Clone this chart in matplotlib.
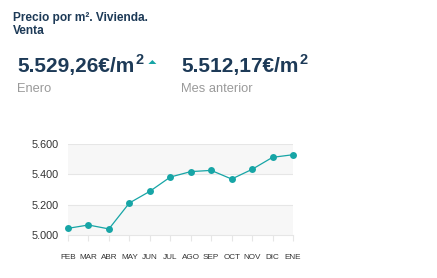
import matplotlib
matplotlib.use("Agg")
import matplotlib.pyplot as plt
from matplotlib.patches import Polygon

plt.rcParams["font.family"] = ["Liberation Sans", "DejaVu Sans"]

# precio medio por m2, vivienda en venta (ultimos 12 meses)
MONTHS = ["FEB", "MAR", "ABR", "MAY", "JUN", "JUL", "AGO", "SEP", "OCT", "NOV", "DIC", "ENE"]
PRICES = [5044, 5066, 5040, 5211, 5288, 5382, 5418, 5426, 5369, 5433, 5512.17, 5529.26]
Y_TICKS = [5000, 5200, 5400, 5600]
Y_LABELS = ["5.000", "5.200", "5.400", "5.600"]

TITLE = "Precio por m². Vivienda.\nVenta"
CURRENT = "5.529,26€/m"
CURRENT_LBL = "Enero"
PREVIOUS = "5.512,17€/m"
PREVIOUS_LBL = "Mes anterior"

NAVY = "#1d3a57"
GREY_TXT = "#9a9a9a"
TEAL = "#17a5a6"
BAND = "#f7f7f7"
GRID = "#e6e6e6"

W, H = 437, 278
fig = plt.figure(figsize=(W / 100, H / 100), dpi=100)


def fx(px):
    return px / W


def fy(py):
    return 1 - py / H


fig.text(fx(13), fy(12), TITLE, ha="left", va="top", fontsize=8.6,
         fontweight="bold", color=NAVY, linespacing=1.15)


def big_value(x, text, label):
    t = fig.text(fx(x), fy(72.5), text, ha="left", va="baseline", fontsize=15,
                 fontweight="bold", color=NAVY)
    fig.canvas.draw()
    bb = t.get_window_extent()
    sup = fig.text(bb.x1 / W + fx(1), fy(63.5), "2", ha="left", va="baseline",
                   fontsize=10.5, fontweight="bold", color=NAVY)
    fig.text(fx(x), fy(91.5), label, ha="left", va="baseline", fontsize=9.3,
             color=GREY_TXT)
    return sup


sup = big_value(17, CURRENT, CURRENT_LBL)
fig.canvas.draw()
sb = sup.get_window_extent()
tx = sb.x1 + 5
fig.add_artist(Polygon([(tx, H - 64), (tx + 8, H - 64), (tx + 4, H - 60)],
                       closed=True, transform=None, color=TEAL, lw=0))
big_value(181, PREVIOUS, PREVIOUS_LBL)

ax = fig.add_axes([fx(68), fy(235), fx(293) - fx(68), fy(144) - fy(235)])
x = list(range(len(MONTHS)))
ax.set_xlim(x[0], x[-1])
ax.set_ylim(Y_TICKS[0], Y_TICKS[-1])

for i in range(len(Y_TICKS) - 1):
    if i % 2 == 0:
        ax.axhspan(Y_TICKS[i], Y_TICKS[i + 1], color=BAND, lw=0, zorder=0)
for v in Y_TICKS[1:]:
    ax.axhline(v, color=GRID, lw=0.8, zorder=1)

ax.plot(x, PRICES, color=TEAL, lw=0.9, marker="o", markersize=5,
        markeredgewidth=0, zorder=3, clip_on=False)

for side in ["top", "right", "left"]:
    ax.spines[side].set_visible(False)
ax.spines["bottom"].set_color(GRID)
ax.spines["bottom"].set_linewidth(0.8)

ax.set_yticks(Y_TICKS)
ax.set_yticklabels(Y_LABELS)
ax.tick_params(axis="y", length=0, pad=7, labelsize=7.8, labelcolor="#333333")
ax.set_xticks(x)
ax.set_xticklabels(MONTHS)
ax.tick_params(axis="x", length=4, width=0.8, color=GRID, pad=10,
               labelsize=5.9, labelcolor="#333333")

fig.savefig("out.png", dpi=100)
